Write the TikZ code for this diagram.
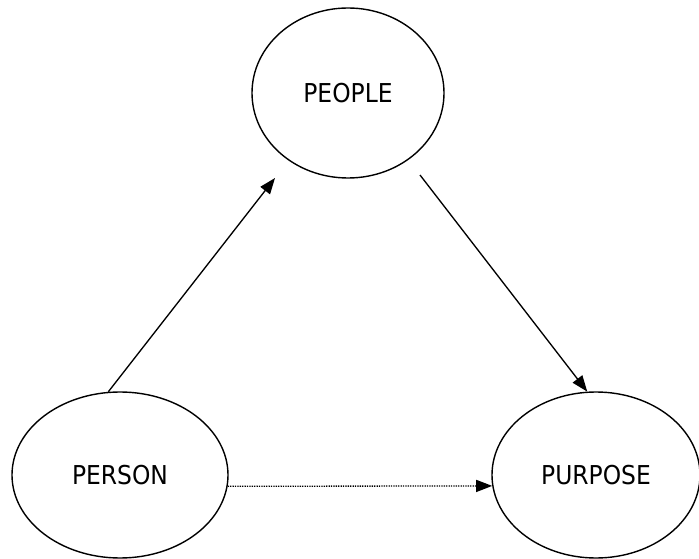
\documentclass[tikz,border=0pt]{standalone}
\usepackage{fontspec}
\setmainfont{DejaVu Sans Condensed}
\usetikzlibrary{arrows.meta,shapes.geometric}

\begin{document}
\begin{tikzpicture}[x=0.75pt,y=-0.75pt]
\tikzstyle{blob}=[ellipse,draw,line width=1.05pt,inner sep=0pt,text depth=-1pt,font=\fontsize{19.5}{23}\selectfont];
\tikzstyle{link}=[line width=1pt,-{Triangle[length=12pt,width=9pt]}];
\tikzstyle{hint}=[link,line width=1pt,dash pattern=on 1pt off 0.8pt];
\useasboundingbox (0,0) rectangle (699,559);
\node [blob,minimum width=144pt,minimum height=127.5pt] (people) at (348,93) {PEOPLE};
\node [blob,minimum width=162pt,minimum height=124.5pt] (person) at (120,475) {PERSON};
\node [blob,minimum width=156pt,minimum height=124.5pt] (purpose) at (596,475) {PURPOSE};
\coordinate (tip1) at (275,178);
\coordinate (tail2) at (420,175);

\draw [link] (person.98) -- (tip1);
\draw [link] (tail2) -- (purpose.96);
\draw [hint] (person.-6) -- (purpose.186);
\end{tikzpicture}
\end{document}
